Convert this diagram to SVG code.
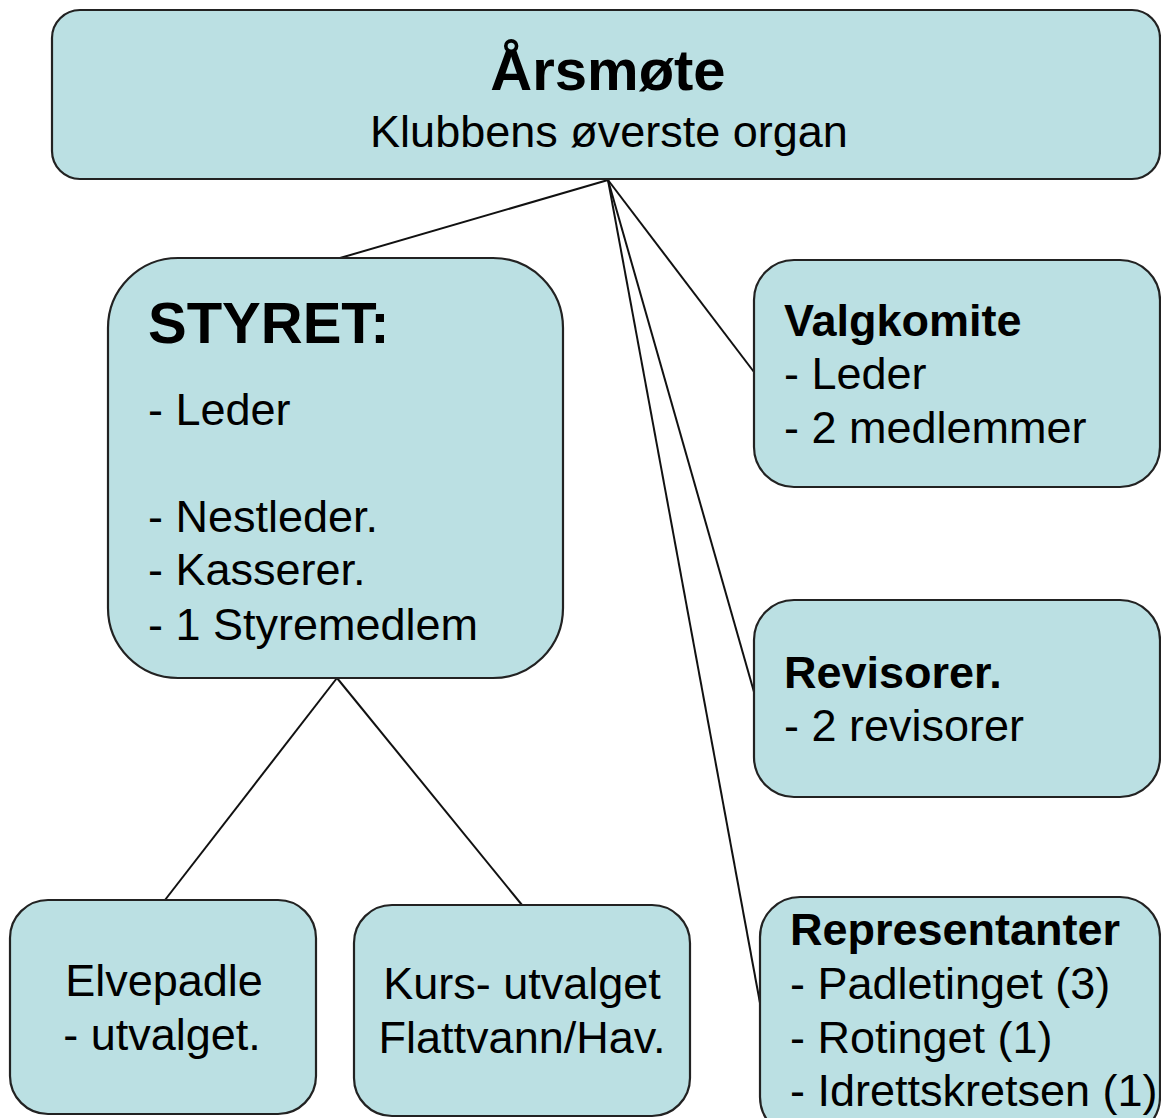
<svg xmlns="http://www.w3.org/2000/svg" width="1161" height="1118" viewBox="0 0 1161 1118">
<style>
.box{fill:#bbe0e3;stroke:#222;stroke-width:2.2}
.t{font-family:"Liberation Sans",Arial,sans-serif;font-size:45px;fill:#000}
.b{font-weight:bold}
.c{text-anchor:middle}
.ln{stroke:#111;stroke-width:2;fill:none}
</style>
<rect width="1161" height="1118" fill="#fff"/>
<g id="connectors">
<line class="ln" x1="608" y1="180" x2="340" y2="258"/>
<line class="ln" x1="608" y1="180" x2="754" y2="372"/>
<line class="ln" x1="608" y1="180" x2="754" y2="692"/>
<line class="ln" x1="608" y1="180" x2="760" y2="1003"/>
<line class="ln" x1="337" y1="678" x2="165" y2="900"/>
<line class="ln" x1="337" y1="678" x2="522" y2="905"/>
</g>
<g id="arsmote">
<rect class="box" x="52" y="10" width="1108" height="169" rx="28"/>
<text class="t b c" x="608" y="90" style="font-size:58px">Årsmøte</text>
<text class="t c" x="609" y="147">Klubbens øverste organ</text>
</g>
<g id="styret">
<rect class="box" x="108" y="258" width="455" height="420" rx="70"/>
<text class="t b" x="148" y="343" style="font-size:58px">STYRET:</text>
<text class="t" x="148" y="425">- Leder</text>
<text class="t" x="148" y="532">- Nestleder.</text>
<text class="t" x="148" y="585">- Kasserer.</text>
<text class="t" x="148" y="640">- 1 Styremedlem</text>
</g>
<g id="valgkomite">
<rect class="box" x="754" y="260" width="406" height="227" rx="40"/>
<text class="t b" x="784" y="336">Valgkomite</text>
<text class="t" x="784" y="389">- Leder</text>
<text class="t" x="784" y="443">- 2 medlemmer</text>
</g>
<g id="revisorer">
<rect class="box" x="754" y="600" width="406" height="197" rx="40"/>
<text class="t b" x="784" y="688">Revisorer.</text>
<text class="t" x="784" y="741">- 2 revisorer</text>
</g>
<g id="representanter">
<rect class="box" x="760" y="897" width="400" height="240" rx="40"/>
<text class="t b" x="790" y="945">Representanter</text>
<text class="t" x="790" y="999">- Padletinget (3)</text>
<text class="t" x="790" y="1053">- Rotinget (1)</text>
<text class="t" x="790" y="1106">- Idrettskretsen (1)</text>
</g>
<g id="elvepadle">
<rect class="box" x="10" y="900" width="306" height="214" rx="38"/>
<text class="t c" x="164" y="996">Elvepadle</text>
<text class="t c" x="162" y="1050">- utvalget.</text>
</g>
<g id="kurs">
<rect class="box" x="354" y="905" width="336" height="211" rx="38"/>
<text class="t c" x="522" y="999">Kurs- utvalget</text>
<text class="t c" x="522" y="1053">Flattvann/Hav.</text>
</g>
</svg>
